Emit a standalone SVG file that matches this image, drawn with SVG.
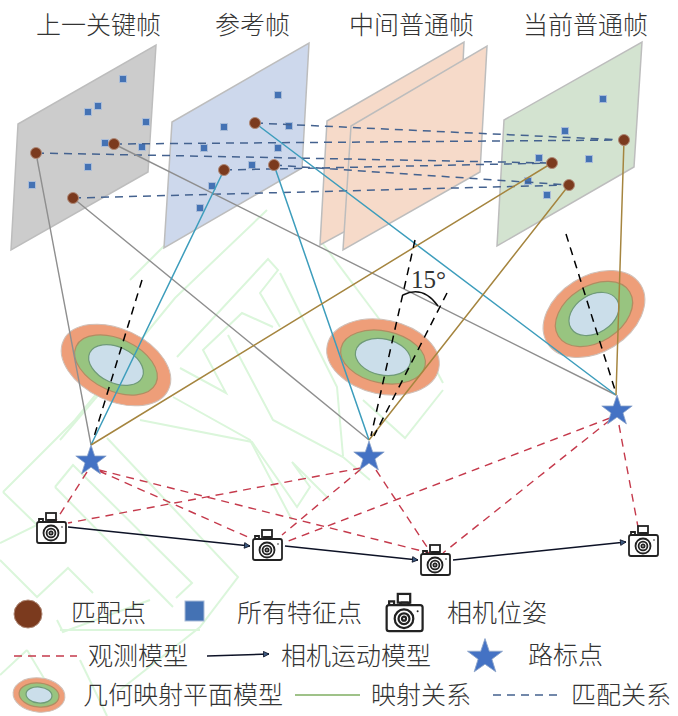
<svg xmlns="http://www.w3.org/2000/svg" xmlns:xlink="http://www.w3.org/1999/xlink" width="678" height="716" viewBox="0 0 678 716">
<style>
.t{font-family:"Noto Sans CJK SC","Liberation Sans",sans-serif;font-size:25px;font-weight:300;fill:#333}
.wm{fill:none;stroke:#dbf6db;stroke-width:2}
.pl{stroke:#bdbdbd;stroke-width:1.5}
.sq{fill:#4472b4;stroke:#a9bcd8;stroke-width:1}
.mp{fill:#7b3a1e;stroke:#b08a78;stroke-width:1}
.gr{stroke:#8f8f8f;stroke-width:1.4;fill:none}
.te{stroke:#3d9dbc;stroke-width:1.5;fill:none}
.br{stroke:#a5853f;stroke-width:1.5;fill:none}
.bd{stroke:#44628f;stroke-width:1.5;stroke-dasharray:8 6;fill:none}
.rd{stroke:#c53a4c;stroke-width:1.4;stroke-dasharray:8 6;fill:none}
.kd{stroke:#000;stroke-width:1.5;stroke-dasharray:8 6;fill:none}
.ar{stroke:#0d1226;stroke-width:1.5;fill:none;marker-end:url(#ah)}
.o{fill:#ee9e79;stroke:#cfc0b8;stroke-width:1}
.g{fill:#98c480;stroke:#b08d62;stroke-width:1.2}
.i{fill:#cbdeea;stroke:#6f9a78;stroke-width:1.2}
</style>
<defs>
<marker id="ah" viewBox="0 0 10 10" refX="9" refY="5" markerWidth="7" markerHeight="7" orient="auto" markerUnits="userSpaceOnUse"><path d="M1 1L9 5L1 9Z" fill="#3c5a80" stroke="#0d1226" stroke-width="1.2"/></marker>
<rect id="s" x="-3.5" y="-3.5" width="7" height="7" class="sq"/>
<circle id="m" r="5.5" class="mp"/>
<polygon id="st" points="0,-16 3.7,-5 15.2,-5 6,1.9 9.4,12.9 0,6.2 -9.4,12.9 -6,1.9 -15.2,-5 -3.7,-5" fill="#4472c4" stroke="#8ba3c9" stroke-width="0.8"/>
<g id="cam" fill="none" stroke="#222" stroke-width="1.8">
<rect x="-14" y="-8" width="29" height="21" rx="2" fill="#fff"/>
<path d="M-12-8v-3h4v3"/>
<rect x="-5" y="-17" width="10" height="7" fill="#fff"/>
<path d="M-4-8l2-2h5l2 2"/>
<circle cx="0" cy="3" r="7.5" fill="#fff"/><circle cx="0" cy="3" r="4.4"/><circle cx="0" cy="3" r="1.6"/>
<circle cx="11" cy="-3" r="0.8" fill="#222" stroke="none"/>
</g>
</defs>
<rect width="678" height="716" fill="#fff"/>
<g id="watermark" class="wm">
<polyline points="3,492 75,420 175,298 267,210"/>
<polyline points="177,357 268,259 278,270 260,293 280,327"/>
<polyline points="280,273 337,387 343,456"/>
<polyline points="180,368 226,393 203,350 242,313 273,327"/>
<polyline points="228,335 273,420 343,457 370,480"/>
<polyline points="173,397 250,440 292,520"/>
<polyline points="55,487 73,465 192,583 176,598"/>
<polyline points="55,487 173,607"/>
<polyline points="107,438 238,577 200,627 120,690"/>
<polyline points="140,420 252,442 297,507 310,487 292,462 330,500"/>
<polyline points="3,492 37,525 0,543"/>
<polyline points="0,560 37,597 68,568 93,593"/>
<polyline points="27,650 0,675"/>
<polyline points="27,650 45,680"/>
<polyline points="80,660 107,716"/>
<polyline points="57,620 63,632 150,600"/>
<polyline points="60,630 200,630"/>
<polyline points="443,383 420,340"/>
<polyline points="443,390 405,438 363,400"/>
<polyline points="320,240 380,320"/>
<polyline points="200,210 130,280"/>
<polyline points="128,360 60,440"/>
</g>
<g id="frame-1"><polygon class="pl" points="156,45 148,172 11,250 18,124" fill="#cccccc"/>
<use href="#s" x="123" y="79"/><use href="#s" x="98" y="106"/><use href="#s" x="88" y="112"/><use href="#s" x="146" y="122"/><use href="#s" x="105" y="143"/><use href="#s" x="142" y="147"/><use href="#s" x="88" y="167"/><use href="#s" x="32" y="185"/></g>
<g id="frame-2"><polygon class="pl" points="309,43 302,168 164,248 172,122" fill="#cdd8ec"/>
<use href="#s" x="278" y="95"/><use href="#s" x="224" y="127"/><use href="#s" x="289" y="126"/><use href="#s" x="204" y="148"/><use href="#s" x="278" y="148"/><use href="#s" x="252" y="165"/><use href="#s" x="212" y="186"/><use href="#s" x="200" y="208"/></g>
<g id="frame-3"><polygon class="pl" points="464,42 458,170 320,245 327,121" fill="#f6dac9"/>
<polygon class="pl" points="487,46 480,172 343,250 351,126" fill="#f6dac9"/></g>
<g id="frame-4"><polygon class="pl" points="642,42 634,167 497,246 504,120" fill="#d3e3d0"/>
<use href="#s" x="603" y="99"/><use href="#s" x="565" y="131"/><use href="#s" x="539" y="158"/><use href="#s" x="589" y="159"/><use href="#s" x="528" y="181"/><use href="#s" x="547" y="195"/></g>
<g id="model-1" transform="translate(116,365) rotate(25)"><ellipse class="o" rx="58" ry="36"/><ellipse class="g" rx="44" ry="26"/><ellipse class="i" rx="29" ry="18"/></g>
<g id="model-2" transform="translate(383,357) rotate(12)"><ellipse class="o" rx="57" ry="37"/><ellipse class="g" rx="43" ry="26"/><ellipse class="i" rx="28" ry="18"/></g>
<g id="model-3" transform="translate(594,314) rotate(-32)"><ellipse class="o" rx="55" ry="38"/><ellipse class="g" rx="42" ry="28"/><ellipse class="i" rx="27" ry="19"/></g>
<g id="connectors">
<path class="bd" d="M255 123L624 140M114 144L624 140M36 153L552 163M224 170L552 163M274 165L569 185M73 198L569 185"/>
<path class="gr" d="M36 153L91 445M73 198L369 440M114 144L616 395"/>
<path class="te" d="M224 170L91 445M274 165L369 440M255 123L616 395"/>
<path class="br" d="M552 163L91 445M569 185L369 440M624 140L616 395"/>
<path class="kd" d="M142 280L93 440M415 240L371 436M447 293L374 436M566 234L615 390"/>
<path d="M403 295Q423 285 438 306" fill="none" stroke="#111" stroke-width="1.5"/>
<path class="rd" d="M87 472L55 522M99 471L250 538M99 470L430 553M361 468L68 523M361 469L282 535M376 470L429 550M610 418L283 543M610 420L443 553M619 425L638 527"/>
<line class="ar" x1="68" y1="527" x2="250" y2="546"/>
<line class="ar" x1="285" y1="546" x2="418" y2="560"/>
<line class="ar" x1="453" y1="560" x2="626" y2="542"/>
</g>
<g id="matches"><use href="#m" x="36" y="153"/><use href="#m" x="114" y="144"/><use href="#m" x="73" y="198"/><use href="#m" x="255" y="123"/><use href="#m" x="224" y="170"/><use href="#m" x="274" y="165"/><use href="#m" x="624" y="140"/><use href="#m" x="552" y="163"/><use href="#m" x="569" y="185"/></g>
<g id="landmark-1"><use href="#st" x="91" y="461"/></g>
<g id="landmark-2"><use href="#st" x="369" y="457"/></g>
<g id="landmark-3"><use href="#st" x="617" y="411"/></g>
<g id="camera-1"><use href="#cam" x="51" y="530"/></g>
<g id="camera-2"><use href="#cam" x="267" y="547"/></g>
<g id="camera-3"><use href="#cam" x="435" y="562"/></g>
<g id="camera-4"><use href="#cam" x="643" y="543"/></g>
<g id="titles">
<text class="t" x="36" y="34">上一关键帧</text>
<text class="t" x="215" y="34">参考帧</text>
<text class="t" x="349" y="34">中间普通帧</text>
<text class="t" x="523" y="34">当前普通帧</text>
</g>
<text x="411" y="288" font-family="Liberation Serif,serif" font-size="25" fill="#333">15°</text>
<g id="legend">
<circle cx="28" cy="614" r="14" class="mp"/>
<rect x="185" y="601" width="19" height="20" class="sq"/>
<use href="#cam" transform="translate(404,615) scale(1.24)"/>
<line x1="14" y1="656" x2="77" y2="656" class="rd"/>
<line x1="207" y1="656" x2="269" y2="654" class="ar"/>
<use href="#st" transform="translate(485,657) scale(1.15)"/>
<g transform="translate(39,695) rotate(6)"><ellipse class="o" rx="26" ry="17"/><ellipse class="g" rx="20" ry="12"/><ellipse class="i" rx="13" ry="8"/></g>
<line x1="295" y1="695" x2="360" y2="695" stroke="#7fae62" stroke-width="1.5"/>
<line x1="493" y1="695" x2="560" y2="695" class="bd" stroke-width="1"/>
<text class="t" x="71" y="622">匹配点</text>
<text class="t" x="237" y="622">所有特征点</text>
<text class="t" x="447" y="622">相机位姿</text>
<text class="t" x="88" y="665">观测模型</text>
<text class="t" x="281" y="665">相机运动模型</text>
<text class="t" x="528" y="664">路标点</text>
<text class="t" x="83" y="704">几何映射平面模型</text>
<text class="t" x="371" y="704">映射关系</text>
<text class="t" x="571" y="704">匹配关系</text>
</g>
</svg>
